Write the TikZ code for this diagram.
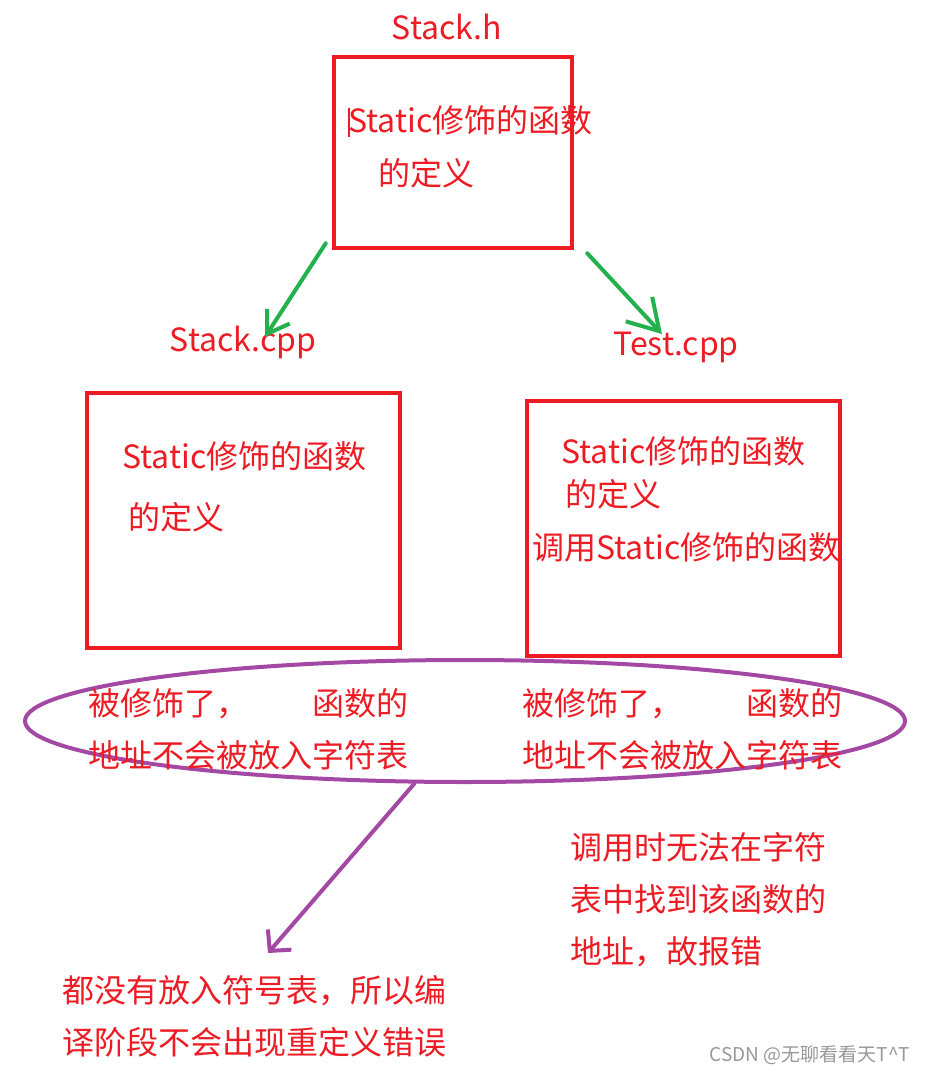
\documentclass[tikz,border=0pt]{standalone}
\usepackage{fontspec}
\newfontfamily\cjk{Noto Sans CJK SC}
\usetikzlibrary{arrows.meta,shapes.geometric}
\definecolor{pred}{HTML}{ED1C24}
\definecolor{pgreen}{HTML}{22B14C}
\definecolor{ppurple}{HTML}{A349A4}
\begin{document}
\begin{tikzpicture}[x=1pt,y=-1pt,
		box/.style={draw=pred,line width=4.5pt,inner sep=0pt},
		txt/.style={text=pred,font=\cjk\fontsize{32}{52}\selectfont,inner sep=0pt,anchor=west,align=left},
		lbl/.style={txt,anchor=center},
		garrow/.style={draw=pgreen,line width=4pt,line cap=round,line join=round}]
			\useasboundingbox[fill=white] (0,0) rectangle (927,1074);
			\node (hname) at (447,27) [lbl] {Stack.h};
			\node (hbox) at (453,152.5) [box,minimum width=238pt,minimum height=191pt] {};
			\node (h1) at (348,120) [txt] {Static修饰的函数};
			\node (h2) at (378,173) [txt] {的定义};
			\draw[pred,line width=1.5pt] (349,108) -- (349,137);
			\node (cname) at (243,342) [lbl] {Stack.cpp};
			\node (tname) at (676,347) [lbl] {Test.cpp};
			\node (cbox) at (243.5,520.5) [box,minimum width=313pt,minimum height=255pt] {};
			\node (c1) at (122,456) [txt] {Static修饰的函数};
			\node (c2) at (128,517) [txt] {的定义};
			\node (tbox) at (683.5,528.5) [box,minimum width=313pt,minimum height=255pt] {};
			\node (t1) at (561,451) [txt] {Static修饰的函数};
			\node (t2) at (565,494) [txt] {的定义};
			\node (t3) at (532,547) [txt] {调用Static修饰的函数};
			\draw[garrow,-{Straight Barb[length=21pt,width=27pt]}] ([shift={(-6,-7)}]hbox.south west) -- ([shift={(22,-5)}]cname.center);
			\draw[garrow,-{Straight Barb[length=30pt,width=36pt]}] ([shift={(13,3)}]hbox.south east) -- ([shift={(-14,-13)}]tname.center);
			% ellipse round the two notes
			\node (ell) at (465,721) [draw=ppurple,line width=4pt,ellipse,inner sep=0pt,minimum width=880pt,minimum height=122pt] {};
			\node (e1) at (88,729) [txt] {被修饰了，\hspace{2em}函数的\\地址不会被放入字符表};
			\node (e2) at (522,729) [txt] {被修饰了，\hspace{2em}函数的\\地址不会被放入字符表};
			\node (err) at (570,900) [txt] {调用时无法在字符\\表中找到该函数的\\地址，故报错};
			\node (res) at (62,1016.5) [txt] {都没有放入符号表，所以编\\译阶段不会出现重定义错误};
			\coordinate (ptip) at (268,953);
			\draw[ppurple,line width=4pt,line cap=round,-{Straight Barb[length=15pt,width=31pt]}] (ell.231) -- (ptip);
			\node (mark) at (810,1055) [text=black!40,font=\cjk\fontsize{19}{19}\selectfont,inner sep=0pt] {CSDN @无聊看看天T\^{}T};
		\end{tikzpicture}
\end{document}
